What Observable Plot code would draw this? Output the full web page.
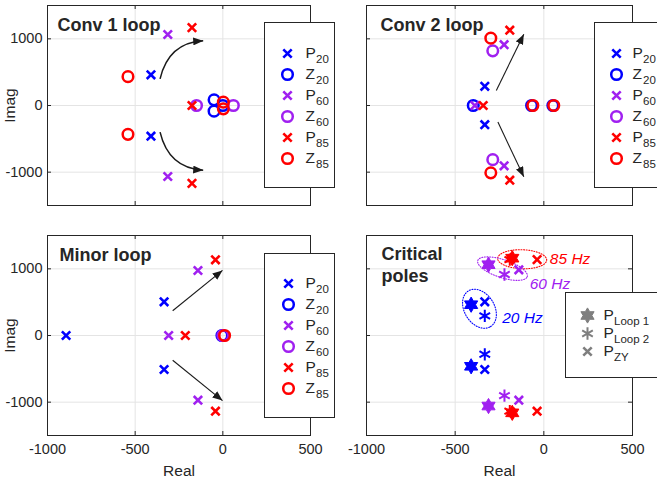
<!DOCTYPE html>
<html><head><meta charset="utf-8">
<script src="https://cdn.jsdelivr.net/npm/d3@7"></script>
<script src="https://cdn.jsdelivr.net/npm/@observablehq/plot@0.6"></script>
<style>
body{margin:0;background:#fff;}
#root{position:relative;width:657px;height:483px;overflow:hidden;background:#fff;}
</style></head><body><div id="root"></div>
<script>
// ================= DATA (real, imag) =================
const xTicks = [-1000, -500, 0, 500];
const yTicks = [-1000, 0, 1000];

// Conv 1 loop
const conv1P20 = [[-410, 460], [-410, -460]];
const conv1Z20 = [[-50, 85], [-50, -85], [0, 0]];
const conv1P60 = [[-314, 1065], [-314, -1065]];
const conv1Z60 = [[-150, 0], [60, 0]];
const conv1P85 = [[-176, 1168], [-176, -1168], [-176, 0]];
const conv1Z85 = [[-541, 433], [-541, -433], [3, 50], [3, -50]];
const conv1Arrows = [[-358, 400, -112, 970], [-358, -400, -112, -970]];

// Conv 2 loop
const conv2P20 = [[-333, 288], [-333, -288]];
const conv2Z20 = [[-398, 0], [-69, 0], [51, 0]];
const conv2P60 = [[-224, 912], [-224, -905], [-389, 0]];
const conv2Z60 = [[-288, 820], [-288, -812]];
const conv2P85 = [[-192, 1130], [-192, -1120], [-342, 0]];
const conv2Z85 = [[-299, 1010], [-299, -1010], [-62, 0], [56, 0]];
const conv2Arrows = [[-268, 224, -113, 1070], [-259, -249, -113, -1070]];

// Minor loop
const minorP20 = [[-894, 0], [-335, 505], [-335, -510]];
const minorZ20 = [[-5, 0]];
const minorP60 = [[-142, 975], [-142, -970], [-309, 0]];
const minorZ60 = [[0, 0]];
const minorP85 = [[-42, 1135], [-42, -1135], [-214, 0]];
const minorZ85 = [[10, 0]];
const minorArrows = [[-286, 371, -2, 976], [-286, -371, -2, -976]];

// Critical poles
const critLoop1_20 = [[-410, 462], [-410, -462]];
const critLoop1_60 = [[-312, 1062], [-312, -1058]];
const critLoop1_85 = [[-178, 1160], [-178, -1160]];
const critLoop2_20 = [[-333, 295], [-333, -282]];
const critLoop2_60 = [[-222, 915], [-222, -902]];
const critLoop2_85 = [[-192, 1138], [-192, -1135]];
const critZY_20 = [[-333, 505], [-333, -510]];
const critZY_60 = [[-141, 985], [-141, -970]];
const critZY_85 = [[-38, 1138], [-38, -1135]];

// Frequency groups (annotation)
const freqLabels = ["85 Hz", "60 Hz", "20 Hz"];
const freqCenters = [[-122, 1144], [-233, 1003], [-363, 401]];
const freqLabelAt = [[34, 1149], [-80, 777], [-235, 263]];

// Legend texts
const pzLegendMain = ["P", "Z", "P", "Z", "P", "Z"];
const pzLegendSub = ["20", "20", "60", "60", "85", "85"];
const critLegendMain = ["P", "P", "P"];
const critLegendSub = ["Loop 1", "Loop 2", "ZY"];

// ================= STYLE =================
const BLUE = "#0000ff", PURPLE = "#a020f0", RED = "#ff0000", GRAY = "#7f7f7f";
const INK = "#262626", GRID = "#e4e4e4", ARROW = "#1a1a1a";
const FONT = "'Liberation Sans', Arial, Helvetica, sans-serif";
const freqColors = [RED, PURPLE, BLUE];
const ellipseShapes = [ {a: 24.5, b: 9.5, angle: -2}, {a: 26, b: 9, angle: -18}, {a: 21, b: 15, angle: -58} ];

const geo = {
  L: {left: 0, width: 340, mL: 47, mR: 30},
  R: {left: 330, width: 327, mL: 36, mR: 25},
  T: {top: 0, height: 230, mT: 5, mB: 25},
  B: {top: 230, height: 253, mT: 5, mB: 48}
};

const hexagram = {
  draw(ctx, size) {
    const r = Math.sqrt(size / Math.PI), ri = r / Math.sqrt(3);
    for (let i = 0; i < 12; i++) {
      const a = Math.PI / 6 * i - Math.PI / 2;
      const rr = i % 2 === 0 ? r : ri;
      const x = rr * Math.cos(a), y = rr * Math.sin(a);
      if (i === 0) ctx.moveTo(x, y); else ctx.lineTo(x, y);
    }
    ctx.closePath();
  }
};

// quadratic bend: leaves start upward, arrives horizontally
function bendCurve(context) {
  let pts = [];
  return {
    areaStart() {}, areaEnd() {},
    lineStart() { pts = []; },
    point(x, y) { pts.push([+x, +y]); },
    lineEnd() {
      const [[x0, y0], [x1, y1]] = pts;
      context.moveTo(x0, y0);
      context.quadraticCurveTo(x0 + 0.2 * (x1 - x0), y1 + 0.05 * (y0 - y1), x1, y1);
    }
  };
}

const re = d => d[0], im = d => d[1];
const markStyle = {
  times: {symbol: "times", r: 3.9, strokeWidth: 2.6, fill: "none"},
  circle: {symbol: "circle", r: 5.3, strokeWidth: 2.5, fill: "none"},
  hexagram: {symbol: hexagram, r: 7.6, strokeWidth: 1},
  asterisk: {symbol: "asterisk", r: 5.8, strokeWidth: 2, fill: "none"}
};
function pts(data, kind, color) {
  const s = markStyle[kind];
  return Plot.dot(data, {x: re, y: im, ...s, stroke: color, fill: kind === "hexagram" ? color : "none"});
}

const root = document.getElementById("root");
function place(el, left, top) {
  el.style.position = "absolute"; el.style.left = left + "px"; el.style.top = top + "px";
  el.style.maxWidth = "none";
  root.appendChild(el);
}

function addArrowHeads(svg, id) {
  const s = d3.select(svg);
  const defs = s.insert("defs", ":first-child");
  defs.append("marker").attr("id", id).attr("viewBox", "0 0 10 8")
    .attr("refX", 10).attr("refY", 4).attr("markerWidth", 10).attr("markerHeight", 8)
    .attr("markerUnits", "userSpaceOnUse").attr("orient", "auto")
    .append("path").attr("d", "M0,0L10,4L0,8Z").attr("fill", ARROW);
  s.selectAll('g[aria-label="link"] path').attr("marker-end", `url(#${id})`);
}

function fixFonts(svg) {
  const s = d3.select(svg);
  s.selectAll('g[aria-label*="axis"]').style("font-size", "14.5px").style("font-family", FONT);
  s.selectAll('g[aria-label*="axis"] text').each(function() {
    const t = this.textContent.trim();
    const isLabel = t === "Real" || t === "Imag";
    d3.select(this).style("font-size", isLabel ? "15.5px" : "14.5px").style("font-family", FONT).style("fill", INK);
  });
}

function panel({col, row, title, titleDx, titleDy = 11, marks, arrows, curved, arrowWidth, id}) {
  const c = geo[col], r = geo[row];
  const pw = c.width - c.mL - c.mR, ph = r.height - r.mT - r.mB;
  const showX = row === "B", showY = col === "L";
  const svg = Plot.plot({
    width: c.width, height: r.height,
    marginLeft: c.mL, marginRight: c.mR, marginTop: r.mT, marginBottom: r.mB,
    style: {fontFamily: FONT, fontSize: "14.5px", color: INK, background: "transparent", overflow: "visible"},
    x: {domain: [-1000, 500], ticks: xTicks, tickFormat: d => `${d}`, tickSize: 0, tickPadding: 8,
        axis: showX ? "bottom" : null, label: "Real", labelAnchor: "center", labelOffset: 40, labelArrow: "none"},
    y: {domain: [-1500, 1500], ticks: yTicks, tickFormat: d => `${d}`, tickSize: 0, tickPadding: 5,
        axis: showY ? "left" : null, label: "Imag", labelAnchor: "center", labelOffset: 44, labelArrow: "none"},
    marks: [
      Plot.ruleX(xTicks, {stroke: GRID}),
      Plot.ruleY(yTicks, {stroke: GRID}),
      Plot.ruleX(xTicks, {stroke: INK, insetTop: ph - 4}),
      Plot.ruleX(xTicks, {stroke: INK, insetBottom: ph - 4}),
      Plot.ruleY(yTicks, {stroke: INK, insetRight: pw - 4}),
      Plot.ruleY(yTicks, {stroke: INK, insetLeft: pw - 4}),
      Plot.frame({stroke: INK}),
      ...(arrows ? [Plot.link(arrows, {x1: d => d[0], y1: d => d[1], x2: d => d[2], y2: d => d[3],
        curve: curved ? bendCurve : "linear", stroke: ARROW, strokeWidth: arrowWidth})] : []),
      ...marks,
      Plot.text([title], {frameAnchor: "top-left", dx: titleDx, dy: titleDy, textAnchor: "start",
        lineAnchor: "top", fontWeight: "bold", fontSize: 18, fill: INK, lineHeight: 1.17})
    ]
  });
  if (arrows) addArrowHeads(svg, id);
  fixFonts(svg);
  place(svg, c.left, r.top);
  return svg;
}

function legend({left, top, width, height, rowTop, rowBottom, markerDx, textDx, rows}) {
  const keys = rows.map((d, i) => i);
  const marks = [Plot.frame({fill: "white", stroke: INK})];
  const indexed = rows.map((d, i) => ({...d, i}));
  for (const kind of ["times", "circle", "hexagram", "asterisk"]) {
    const sel = indexed.filter(d => d.kind === kind);
    if (!sel.length) continue;
    const s = markStyle[kind];
    marks.push(Plot.dot(sel, {y: "i", frameAnchor: "left", dx: markerDx, ...s, stroke: "color",
      fill: kind === "hexagram" ? "color" : "none"}));
  }
  marks.push(Plot.text(indexed, {y: "i", text: "main", frameAnchor: "left", dx: textDx,
    textAnchor: "start", fontSize: 15.5, fill: INK}));
  marks.push(Plot.text(indexed, {y: "i", text: "sub", frameAnchor: "left", dx: textDx + 10.5, dy: 6,
    textAnchor: "start", fontSize: 11.5, fill: INK}));
  const svg = Plot.plot({
    width, height, margin: 0,
    style: {fontFamily: FONT, background: "transparent", overflow: "visible"},
    x: {axis: null},
    y: {type: "point", domain: keys, range: [rowTop, rowBottom], axis: null},
    color: {type: "identity"},
    marks
  });
  place(svg, left, top);
}

const pzColors = [BLUE, BLUE, PURPLE, PURPLE, RED, RED];
const pzKinds = ["times", "circle", "times", "circle", "times", "circle"];
const pzRows = pzLegendMain.map((m, i) => ({main: m, sub: pzLegendSub[i], color: pzColors[i], kind: pzKinds[i]}));
const critKinds = ["hexagram", "asterisk", "times"];
const critRows = critLegendMain.map((m, i) => ({main: m, sub: critLegendSub[i], color: GRAY, kind: critKinds[i]}));

// ---------- panels ----------
panel({col: "L", row: "T", title: "Conv 1 loop", titleDx: 10, arrows: conv1Arrows, curved: true, arrowWidth: 1.5, id: "ah1",
  marks: [pts(conv1P20, "times", BLUE), pts(conv1Z20, "circle", BLUE), pts(conv1P60, "times", PURPLE),
          pts(conv1Z60, "circle", PURPLE), pts(conv1P85, "times", RED), pts(conv1Z85, "circle", RED)]});

panel({col: "R", row: "T", title: "Conv 2 loop", titleDx: 14, arrows: conv2Arrows, curved: false, arrowWidth: 1.1, id: "ah2",
  marks: [pts(conv2P20, "times", BLUE), pts(conv2Z20, "circle", BLUE), pts(conv2P60, "times", PURPLE),
          pts(conv2Z60, "circle", PURPLE), pts(conv2P85, "times", RED), pts(conv2Z85, "circle", RED)]});

panel({col: "L", row: "B", title: "Minor loop", titleDx: 12, arrows: minorArrows, curved: false, arrowWidth: 1.1, id: "ah3",
  marks: [pts(minorP20, "times", BLUE), pts(minorZ20, "circle", BLUE), pts(minorP60, "times", PURPLE),
          pts(minorZ60, "circle", PURPLE), pts(minorP85, "times", RED), pts(minorZ85, "circle", RED)]});

// critical ellipses
const cR = geo.R, cB = geo.B;
const kx = (cR.width - cR.mL - cR.mR) / 1500, ky = (cB.height - cB.mT - cB.mB) / 3000;
const ellipsePts = freqCenters.flatMap(([cx, cy], k) => {
  const {a, b, angle} = ellipseShapes[k];
  const th = angle * Math.PI / 180;
  return d3.range(0, 97).map(i => {
    const t = i / 96 * 2 * Math.PI;
    const u = a * Math.cos(t), v = b * Math.sin(t);
    return {k, color: freqColors[k],
      x: cx + (u * Math.cos(th) - v * Math.sin(th)) / kx,
      y: cy + (u * Math.sin(th) + v * Math.cos(th)) / ky};
  });
});
const freqText = freqLabels.map((t, k) => ({t, color: freqColors[k], x: freqLabelAt[k][0], y: freqLabelAt[k][1]}));

panel({col: "R", row: "B", title: "Critical\npoles", titleDx: 15, titleDy: 10,
  marks: [
    Plot.line(ellipsePts, {x: "x", y: "y", z: "k", stroke: d => d.color, strokeWidth: 1.1, strokeDasharray: "1,1.6"}),
    pts(critLoop1_20, "hexagram", BLUE), pts(critLoop2_20, "asterisk", BLUE), pts(critZY_20, "times", BLUE),
    pts(critLoop1_60, "hexagram", PURPLE), pts(critLoop2_60, "asterisk", PURPLE), pts(critZY_60, "times", PURPLE),
    pts(critLoop1_85, "hexagram", RED), pts(critLoop2_85, "asterisk", RED), pts(critZY_85, "times", RED),
    Plot.text(freqText, {x: "x", y: "y", text: "t", fill: d => d.color, fontStyle: "italic", fontSize: 15.5, textAnchor: "start"})
  ]});

// ---------- legends ----------
legend({left: 264, top: 22, width: 70, height: 165, rowTop: 18, rowBottom: 148, markerDx: 23, textDx: 41, rows: pzRows});
legend({left: 594, top: 22, width: 70, height: 165, rowTop: 18, rowBottom: 148, markerDx: 22, textDx: 38, rows: pzRows});
legend({left: 264, top: 253, width: 70, height: 164, rowTop: 18, rowBottom: 147, markerDx: 24, textDx: 41, rows: pzRows});
legend({left: 565, top: 292, width: 100, height: 85, rowTop: 14, rowBottom: 68, markerDx: 22, textDx: 38, rows: critRows});
</script></body></html>
